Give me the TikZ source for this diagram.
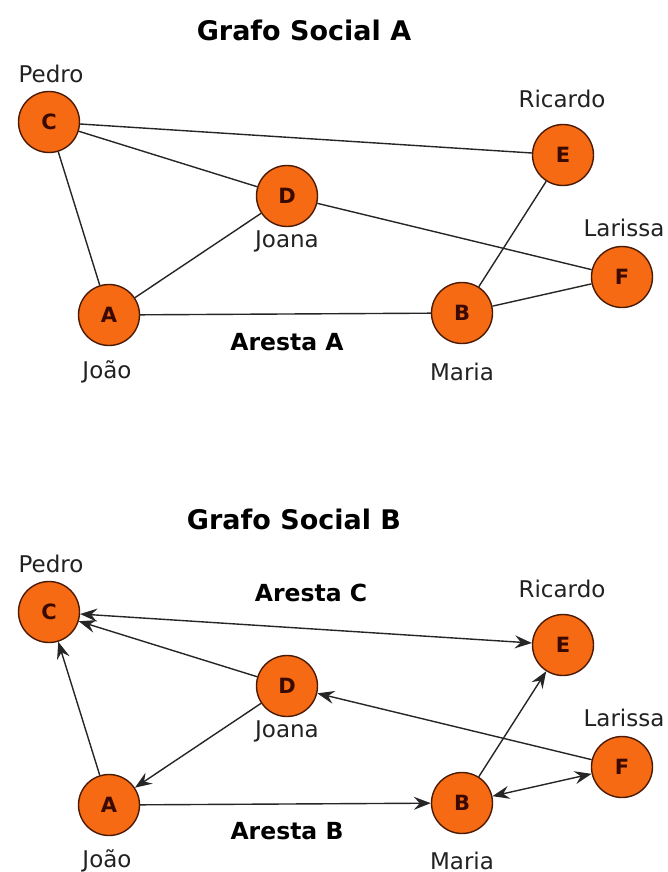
\documentclass[tikz,border=0pt]{standalone}
\usepackage{fontspec}
\setmainfont{DejaVu Sans}
\usetikzlibrary{arrows.meta}
\definecolor{nodefill}{HTML}{F56A12}
\definecolor{nodeedge}{HTML}{4A1A05}
\definecolor{nodetext}{HTML}{3A0A00}
\definecolor{edgecol}{HTML}{262626}
\definecolor{labelcol}{HTML}{222222}
\tikzset{
  person/.style={circle, minimum size=61pt, inner sep=0pt, fill=nodefill,
    draw=nodeedge, line width=1.4pt, text=nodetext,
    font=\fontsize{21}{24}\selectfont\bfseries},
  personname/.style={text=labelcol, font=\fontsize{23}{26}\selectfont, inner sep=0pt},
  graphtitle/.style={text=black, font=\fontsize{27}{31}\selectfont\bfseries, inner sep=0pt},
  edgelabel/.style={text=black, font=\fontsize{23.5}{27}\selectfont\bfseries, inner sep=0pt},
  link/.style={draw=edgecol, line width=1.4pt},
  tip/.style={Stealth[length=17pt,width=13pt,inset=6pt]},
  arr/.style={link, -{Stealth[length=17pt,width=13pt,inset=6pt]}},
  biarr/.style={link, {Stealth[length=17pt,width=13pt,inset=6pt]}-{Stealth[length=17pt,width=13pt,inset=6pt]}}
}
\begin{document}
\begin{tikzpicture}[x=1pt,y=-1pt]
\useasboundingbox[fill=white] (0,0) rectangle (668,872);

% ---- Grafo Social A ----
\node[graphtitle] (ta) at (304,30) {Grafo Social A};
\node[person] (ca) at (49,122) {C};
\node[person] (ea) at (563,155) {E};
\node[person] (da) at (287,196) {D};
\node[person] (fa) at (622,277) {F};
\node[person] (aa) at (109,315) {A};
\node[person] (ba) at (462,313) {B};
\node[personname] (pa) at (51,74) {Pedro};
\node[personname] (ra) at (562,99) {Ricardo};
\node[personname] (ja) at (287,241) {Joana};
\node[personname] (la) at (624,228) {Larissa};
\node[personname] (joa) at (107,372) {João};
\node[personname] (ma) at (462,372) {Maria};
\node[edgelabel] (ea1) at (287,342) {Aresta A};

\draw[link] (ca) -- (ea);
\draw[link] (ca) -- (da);
\draw[link] (ca) -- (aa);
\draw[link] (da) -- (aa);
\draw[link] (da) -- (fa);
\draw[link] (aa) -- (ba);
\draw[link] (ba) -- (ea);
\draw[link] (ba) -- (fa);

% ---- Grafo Social B ----
\node[graphtitle] (tb) at (294,519) {Grafo Social B};
\node[person] (cb) at (49,612) {C};
\node[person] (eb) at (563,645) {E};
\node[person] (db) at (287,686) {D};
\node[person] (fb) at (622,767) {F};
\node[person] (ab) at (109,805) {A};
\node[person] (bb) at (462,803) {B};
\node[personname] (pb) at (51,564) {Pedro};
\node[personname] (rb) at (562,589) {Ricardo};
\node[personname] (jb) at (287,731) {Joana};
\node[personname] (lb) at (624,718) {Larissa};
\node[personname] (job) at (107,861) {João};
\node[personname] (mb) at (462,861) {Maria};
\node[edgelabel] (ec) at (311,593) {Aresta C};
\node[edgelabel] (eb1) at (287,831) {Aresta B};

\draw[biarr] (cb) -- (eb);
\draw[arr] (db) -- (cb);
\draw[arr] (ab) -- (cb);
\draw[arr] (db) -- (ab);
\draw[arr] (fb) -- (db);
\draw[arr] (ab) -- (bb);
\draw[arr] (bb) -- (eb);
\draw[biarr] (bb) -- (fb);
\end{tikzpicture}
\end{document}
